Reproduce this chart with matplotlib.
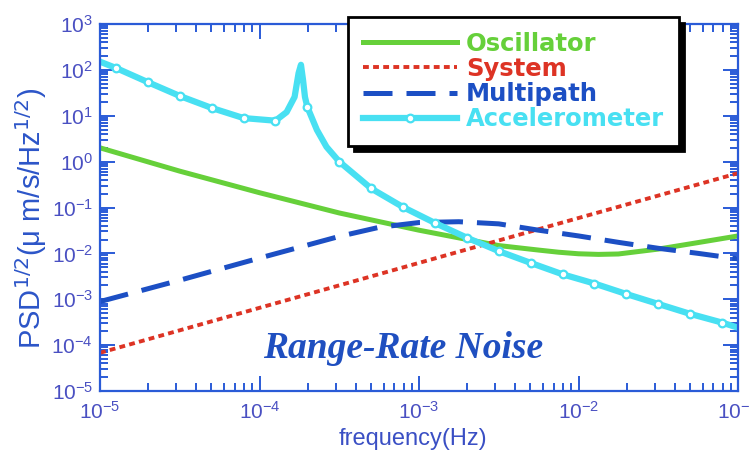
import numpy as np
import matplotlib
matplotlib.use("Agg")
import matplotlib.pyplot as plt
from matplotlib.ticker import LogLocator, NullFormatter

plt.rcParams["axes.unicode_minus"] = False

# frequency given as log10(Hz), PSD^1/2 values
osc_logf = [-5, -4.5, -4, -3.5, -3, -2.5, -2.25, -2.125, -2, -1.875, -1.75, -1.5, -1.25, -1]
osc_psd = [2.0, 0.62, 0.21, 0.076, 0.032, 0.0148, 0.0118, 0.0106, 0.0098, 0.0095,
           0.0097, 0.0124, 0.0172, 0.024]

sys_logf = [-5, -4, -3, -2, -1]
sys_psd = [6.8e-5, 6.5e-4, 6.2e-3, 0.059, 0.56]

mp_logf = [-5, -4.5, -4, -3.5, -3.25, -3, -2.75, -2.5, -2.25, -2, -1.75, -1.5, -1.25, -1]
mp_psd = [8.9e-4, 2.6e-3, 7.9e-3, 0.0234, 0.037, 0.047, 0.049, 0.044, 0.032, 0.024,
          0.0174, 0.0129, 0.010, 0.0076]

acc_logf = [-5.0, -4.9, -4.7, -4.5, -4.3, -4.1, -3.9, -3.83, -3.78, -3.755, -3.74, -3.727,
            -3.715, -3.7, -3.64, -3.58, -3.5, -3.3, -3.1, -2.9, -2.7, -2.5, -2.3, -2.1,
            -1.9, -1.7, -1.5, -1.3, -1.1, -1.0]
acc_psd = [151, 110, 54, 27, 14.8, 8.9, 7.8, 12, 25.7, 85, 129, 60, 25.7, 15.5, 4.9, 2.1,
           1.0, 0.26, 0.102, 0.046, 0.022, 0.0112, 0.0062, 0.0035, 0.0022, 0.0013,
           7.9e-4, 4.8e-4, 3.1e-4, 2.4e-4]
acc_marks = [1, 2, 3, 4, 5, 6, 13, 16, 17, 18, 19, 20, 21, 22, 23, 24, 25, 26, 27, 28]

GREEN = "#66d03a"
RED = "#dd3324"
BLUE = "#1c4fc4"
CYAN = "#48e0f2"
AXIS = "#2a5bd7"
LABEL = "#4a50c2"

fig = plt.figure(figsize=(7.49, 4.57), dpi=100)
ax = fig.add_axes([100 / 749, 66 / 457, 638 / 749, 367 / 457])

f = lambda lf: 10.0 ** np.asarray(lf)

ax.plot(f(osc_logf), osc_psd, color=GREEN, lw=3.6, label="Oscillator")
ax.plot(f(sys_logf), sys_psd, color=RED, lw=2.8, linestyle=(0, (1.5, 1.1)),
        label="System")
ax.plot(f(mp_logf), mp_psd, color=BLUE, lw=3.6, linestyle=(0, (5.8, 2.8)),
        label="Multipath")
ax.plot(f(acc_logf), acc_psd, color=CYAN, lw=4.5, marker="o", markersize=5.5,
        markerfacecolor="white", markeredgecolor=CYAN, markeredgewidth=1.6,
        markevery=acc_marks, label="Accelerometer")

ax.set_xscale("log")
ax.set_yscale("log")
ax.set_xlim(1e-5, 1e-1)
ax.set_ylim(1e-5, 1e3)

for a in (ax.xaxis, ax.yaxis):
    a.set_major_locator(LogLocator(base=10, numticks=20))
    a.set_minor_locator(LogLocator(base=10, subs=np.arange(2, 10), numticks=20))
    a.set_minor_formatter(NullFormatter())

for sp in ax.spines.values():
    sp.set_color(AXIS)
    sp.set_linewidth(1.6)

sans = ["Liberation Sans", "DejaVu Sans"]
ax.tick_params(which="both", direction="in", top=True, right=True, color=AXIS,
               width=1.4, labelcolor=LABEL, labelsize=15, labelfontfamily=sans)
ax.tick_params(which="major", length=11)
ax.tick_params(which="minor", length=6)
ax.tick_params(axis="x", pad=7)
ax.tick_params(axis="y", pad=5)

ax.set_xlabel("frequency(Hz)", fontsize=17, color="#3a4fc4", family=sans)
ax.xaxis.set_label_coords(0.49, -0.1)
ax.set_ylabel("PSD$^{1/2}$(\u03bc m/s/Hz$^{1/2}$)", fontsize=21, color="#2c55c8",
              family=sans)
ax.yaxis.set_label_coords(-0.08, 0.47)

ax.text(0.475, 0.09, "Range-Rate Noise", transform=ax.transAxes, ha="center",
        va="baseline", fontsize=27, fontweight="bold", fontstyle="italic",
        family=["Liberation Serif", "DejaVu Serif"], color="#1f4fc0")

leg = ax.legend(loc="upper left", bbox_to_anchor=(348 / 749, 1 - 17 / 457),
                bbox_transform=fig.transFigure, borderaxespad=0, fancybox=False,
                framealpha=1, edgecolor="black", numpoints=1, handlelength=3.9,
                handletextpad=0.35, labelspacing=0.05, borderpad=0.6,
                labelcolor="linecolor",
                prop={"family": "DejaVu Sans", "weight": "bold", "size": 17.5},
                shadow={"ox": 4, "oy": -4, "color": "black", "alpha": 1})
leg.get_frame().set_linewidth(2)

fig.savefig("out.png", dpi=100)
